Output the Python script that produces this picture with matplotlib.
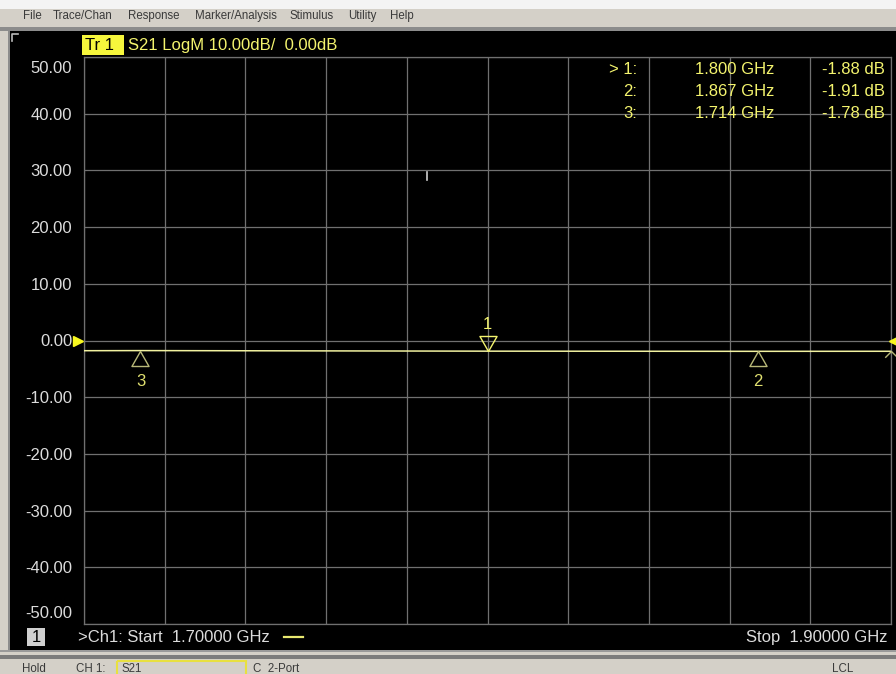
import numpy as np
import matplotlib.pyplot as plt
from matplotlib.patches import Rectangle
from matplotlib.transforms import blended_transform_factory, ScaledTranslation

# S21 sweep, channel 1
start_ghz = 1.70
stop_ghz = 1.90
ref_db = 0.0
scale_db = 10.0
y_ticks = [50, 40, 30, 20, 10, 0, -10, -20, -30, -40, -50]
x_grid = [1.70, 1.72, 1.74, 1.76, 1.78, 1.80, 1.82, 1.84, 1.86, 1.88, 1.90]

trace_freq = [1.700, 1.714, 1.800, 1.867, 1.900]
trace_db = [-1.80, -1.78, -1.88, -1.91, -1.90]

marker_ids = ['1', '2', '3']
marker_freq = [1.800, 1.867, 1.714]
marker_db = [-1.88, -1.91, -1.78]
active_marker = '1'

menu_items = ['File', 'Trace/Chan', 'Response', 'Marker/Analysis',
              'Stimulus', 'Utility', 'Help']
menu_x = [23, 53, 128, 195, 290, 348, 390]

W, H = 896, 674
FONT = ['Liberation Sans', 'DejaVu Sans']
GUI_GRAY = '#d4d0c8'
GRID = '#707070'
TRACE = '#f2f2a0'
YELLOW = '#f4f46e'
OLIVE = '#b8b878'
LABEL = '#dcdcdc'

plt.rcParams['font.family'] = FONT

fig = plt.figure(figsize=(W / 100, H / 100), dpi=100)
fig.patch.set_facecolor(GUI_GRAY)

# window chrome, drawn in pixel coordinates
bg = fig.add_axes([0, 0, 1, 1])
bg.set_xlim(0, W)
bg.set_ylim(H, 0)
bg.axis('off')


def box(x0, y0, x1, y1, **kw):
    bg.add_patch(Rectangle((x0, y0), x1 - x0, y1 - y0, **kw))


def ftext(x, y, s, **kw):
    # text placed in window pixels, drawn above every axes
    return fig.text(x / W, 1 - y / H, s, **kw)


box(0, 0, W, 9, color='#f4f4f4', lw=0)
box(0, 27, W, 31, color='#8c8c8c', lw=0)
box(8, 31, 10, 651, color='#8c8c8c', lw=0)
box(10, 31, W, 650, color='black', lw=0)
box(0, 650, W, 652, color='#9a9a9a', lw=0)
box(0, 655, W, 659, color='#7c7c7c', lw=0)
bg.plot([12, 12, 18], [41, 34, 34], color='#bbbbbb', lw=1.2)

for name, x in zip(menu_items, menu_x):
    bg.text(x, 16, name, fontsize=8.3, color='#3a3a3a', va='center', ha='left')

# channel title bar
box(82, 35, 124, 55, color='#f6f63c', lw=0)
bg.text(85, 45.5, 'Tr 1', fontsize=12, color='black', va='center')
bg.text(128, 45.5, 'S21 LogM 10.00dB/  0.00dB', fontsize=12, color=YELLOW,
        va='center')

# channel footer
box(27, 628, 45, 646, color='#d0d0d0', lw=0)
bg.text(36, 637.5, '1', fontsize=12, color='black', ha='center', va='center')
bg.text(78, 637.5, '>Ch1: Start  %.5f GHz' % start_ghz, fontsize=12,
        color=LABEL, va='center')
bg.plot([284, 303], [637, 637], color='#e8e870', lw=1.6)
bg.text(888, 637.5, 'Stop  %.5f GHz' % stop_ghz, fontsize=12, color=LABEL,
        va='center', ha='right')

# status bar, cut off at the bottom of the window
box(117, 661, 246, 690, facecolor='none', edgecolor='#e8e040', lw=1.5)
for txt, x in [('Hold', 22), ('CH 1:', 76), ('S21', 122), ('C  2-Port', 253),
               ('LCL', 832)]:
    bg.text(x, 663, txt, fontsize=8.3, color='#3a3a3a', va='top')

# measurement grid
ax = fig.add_axes([84 / W, 1 - 624 / H, 807 / W, 567 / H])
ax.set_facecolor('black')
ax.set_xlim(start_ghz, stop_ghz)
ax.set_ylim(ref_db - 5 * scale_db, ref_db + 5 * scale_db)
ax.set_xticks(x_grid)
ax.set_yticks(y_ticks)
ax.set_yticklabels(['%.2f' % v for v in y_ticks])
ax.tick_params(axis='x', length=0, labelbottom=False)
ax.tick_params(axis='y', length=0, pad=8.5, labelsize=12, labelcolor=LABEL)
ax.grid(True, color=GRID, lw=0.9)
for sp in ax.spines.values():
    sp.set_color(GRID)
    sp.set_linewidth(0.9)

# outermost scale labels are pulled inside the grid
ylabels = ax.get_yticklabels()
ylabels[0].set_transform(ylabels[0].get_transform() +
                         ScaledTranslation(0, -0.10, fig.dpi_scale_trans))
ylabels[-1].set_transform(ylabels[-1].get_transform() +
                          ScaledTranslation(0, 0.12, fig.dpi_scale_trans))

ax.plot(trace_freq, trace_db, color=TRACE, lw=1.1, zorder=3)

# reference position arrows on both edges
edge = blended_transform_factory(ax.transAxes, ax.transData)
ax.plot([-0.0075], [ref_db], transform=edge, marker='>', ms=7, color='#f8f820',
        clip_on=False, zorder=4)
ax.plot([1.0035], [ref_db], transform=edge, marker='<', ms=7, color='#f8f820',
        clip_on=False, zorder=4)
ax.plot([0.9995], [trace_db[-1]], transform=edge, clip_on=False, zorder=4,
        marker=[(-0.6, -0.6), (0, 0), (0.6, -0.6)], ms=9, mfc='none',
        mec=OLIVE, mew=1)

# small cursor tick left on screen
ax.plot([1.785, 1.785], [28.3, 29.8], color='#cfcfcf', lw=1.2)

tri_down = [(0, 0), (-0.57, 1), (0.57, 1), (0, 0)]
tri_up = [(0, 0), (-0.57, -1), (0.57, -1), (0, 0)]
for mid, f, v in zip(marker_ids, marker_freq, marker_db):
    if mid == active_marker:
        ax.plot([f], [v], marker=tri_down, ms=21.6, mfc='none', mec=YELLOW,
                mew=1, zorder=5)
        ax.annotate(mid, (f, v), xytext=(0, 19), textcoords='offset points',
                    ha='center', va='center', fontsize=12, color=YELLOW)
    else:
        ax.plot([f], [v], marker=tri_up, ms=21.6, mfc='none', mec=OLIVE,
                mew=1, zorder=5)
        ax.annotate(mid, (f, v), xytext=(0, -22), textcoords='offset points',
                    ha='center', va='center', fontsize=12, color='#e0e070')

# marker readout table
rows = sorted(zip(marker_ids, marker_freq, marker_db), key=lambda r: r[0])
for i, (mid, f, v) in enumerate(rows):
    y = 70 + i * 21.5
    tag = ('> ' if mid == active_marker else '') + mid + ':'
    ftext(637, y, tag, fontsize=12, color=YELLOW, ha='right', va='center')
    ftext(695, y, '%.3f GHz' % f, fontsize=12, color=YELLOW, ha='left',
          va='center')
    ftext(885, y, '%.2f dB' % v, fontsize=12, color=YELLOW, ha='right',
          va='center')

plt.savefig('out.png', dpi=100)
plt.close()
